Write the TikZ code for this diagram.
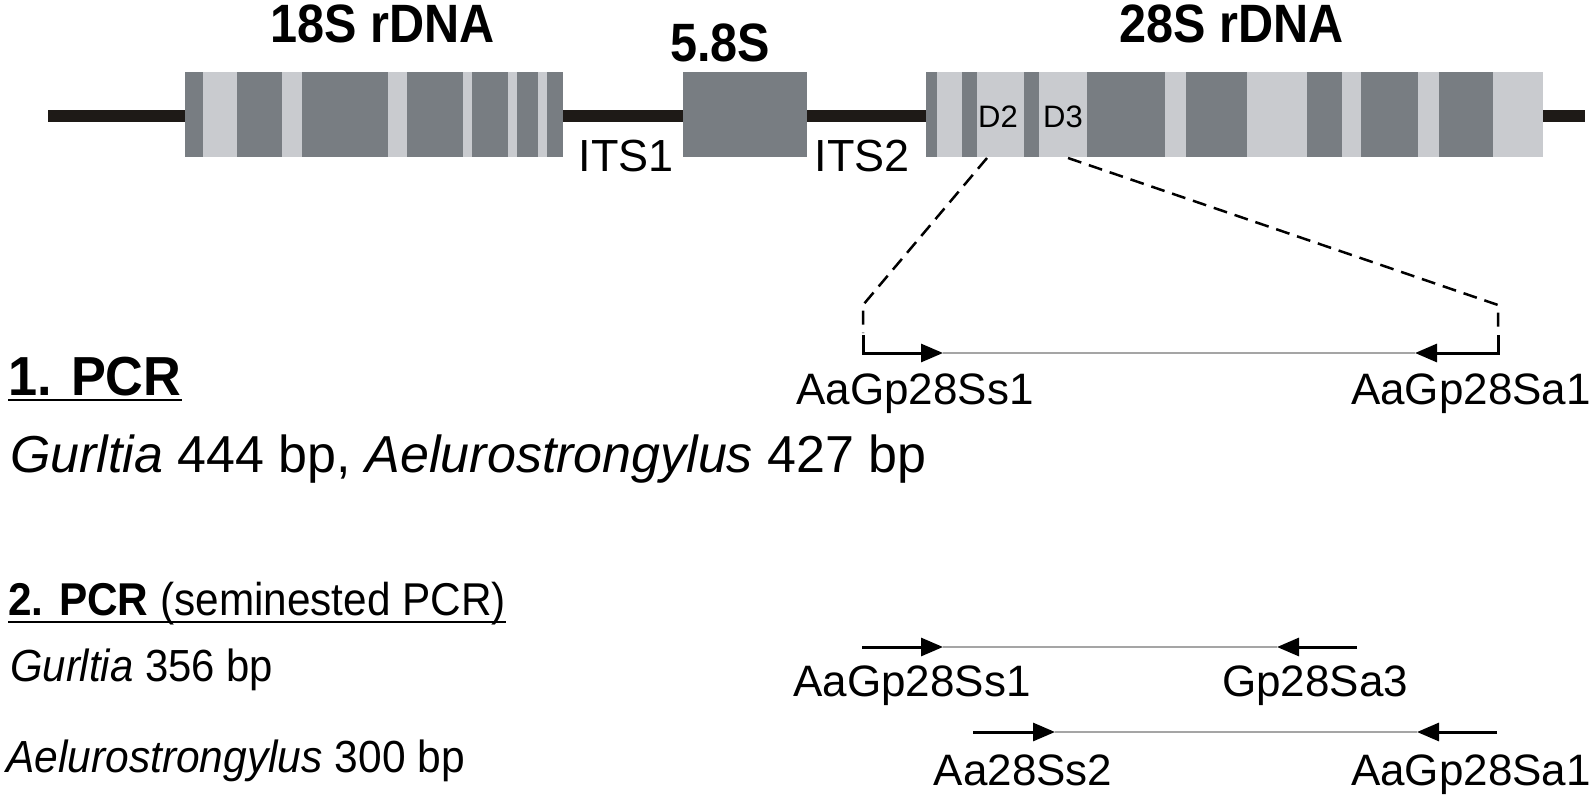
\documentclass[tikz,border=0pt]{standalone}
\usepackage{fontspec}
\setmainfont{Liberation Sans}
\usepackage{graphicx}
\usetikzlibrary{arrows.meta}
\definecolor{darkband}{RGB}{120,125,130}
\definecolor{lightband}{RGB}{201,203,207}
\definecolor{axiscol}{RGB}{30,26,23}
\definecolor{tmpl}{RGB}{165,165,165}
\newcommand\hsc[2]{\scalebox{#1}[1]{#2}}
\begin{document}
\begin{tikzpicture}[x=1pt,y=-1pt,
  heading/.style={font=\bfseries\fontsize{54}{60}\selectfont, inner sep=0pt, anchor=base},
  its/.style={font=\fontsize{45}{50}\selectfont, inner sep=0pt, anchor=base},
  dlabel/.style={font=\fontsize{31}{34}\selectfont, inner sep=0pt, anchor=base},
  primer/.style={font=\fontsize{44}{50}\selectfont, inner sep=0pt, anchor=base},
  bodyA/.style={font=\fontsize{52}{60}\selectfont, inner sep=0pt, anchor=base west},
  bodyB/.style={font=\fontsize{45}{50}\selectfont, inner sep=0pt, anchor=base west},
  backbone/.style={line width=12pt, draw=axiscol},
  zoomline/.style={dash pattern=on 14pt off 8pt, line width=2.5pt, draw=black},
  primerarrow/.style={line width=3pt, draw=black, -{Triangle[length=22pt,width=18pt]}},
  template/.style={line width=2pt, draw=tmpl},
  uline/.style={line width=2.5pt, draw=black}]
\useasboundingbox (0,0) rectangle (1595,800);

% backbone
\coordinate (bbL) at (48,116);
\coordinate (bbR) at (1585,116);
\draw[backbone] (bbL) -- (bbR);

% 18S
\fill[darkband] (185,72) rectangle (563,157);
\foreach \a/\b in {203/237, 282/302, 388/407, 463/472, 508/517, 538/547}
  \fill[lightband] (\a,72) rectangle (\b,157);
% 5.8S
\fill[darkband] (683,72) rectangle (807,157);
% 28S
\fill[darkband] (926,72) rectangle (1543,157);
\foreach \a/\b in {937/962, 977/1024, 1039/1087, 1165/1186, 1247/1307, 1342/1361, 1418/1439, 1493/1543}
  \fill[lightband] (\a,72) rectangle (\b,157);

% titles
\node[heading] (t18) at (383,43) {\hsc{0.9}{18S rDNA}};
\node[heading] (t58) at (720,62) {\hsc{0.9}{5.8S}};
\node[heading] (t28) at (1232,43) {\hsc{0.9}{28S rDNA}};
\node[its] (its1) at (626,171) {ITS1};
\node[its] (its2) at (862,171) {ITS2};
\node[dlabel] (d2) at (998,127) {D2};
\node[dlabel] (d3) at (1063,127) {D3};

% zoom lines
\coordinate (d2foot) at (987,158);
\coordinate (lc) at (863,305);
\coordinate (lend) at (863,333);
\coordinate (d3foot) at (1068,158);
\coordinate (rc) at (1498,305);
\coordinate (rend) at (1498,333);
\draw[zoomline] (d2foot) -- (lc) -- (lend);
\draw[zoomline] (d3foot) -- (rc) -- (rend);

% row 1 primers
\coordinate (f1s) at (863,335);
\coordinate (f1t) at (943,353);
\coordinate (r1s) at (1498,335);
\coordinate (r1t) at (1415,353);
\draw[template] (f1t) -- (r1t);
\draw[primerarrow] (f1s) |- (f1t);
\draw[primerarrow] (r1s) |- (r1t);
\node[primer] (p1f) at (915,404) {AaGp28Ss1};
\node[primer] (p1r) at (1471,404) {AaGp28Sa1};

% row 2
\coordinate (f2s) at (862,647);
\coordinate (f2t) at (943,647);
\coordinate (r2s) at (1357,647);
\coordinate (r2t) at (1277,647);
\draw[template] (f2t) -- (r2t);
\draw[primerarrow] (f2s) -- (f2t);
\draw[primerarrow] (r2s) -- (r2t);
\node[primer] (p2f) at (912,696) {AaGp28Ss1};
\node[primer] (p2r) at (1315,696) {Gp28Sa3};

% row 3
\coordinate (f3s) at (973,732);
\coordinate (f3t) at (1055,732);
\coordinate (r3s) at (1497,732);
\coordinate (r3t) at (1417,732);
\draw[template] (f3t) -- (r3t);
\draw[primerarrow] (f3s) -- (f3t);
\draw[primerarrow] (r3s) -- (r3t);
\node[primer] (p3f) at (1023,785) {Aa28Ss2};
\node[primer] (p3r) at (1471,785) {AaGp28Sa1};

% left texts
\node[bodyA, font=\bfseries\fontsize{55}{60}\selectfont] (pcr1) at (8,395) {\hsc{0.95}{1. PCR}};
\draw[uline] ([yshift=-5pt]pcr1.base west) -- ([yshift=-5pt]pcr1.base east);
\node[bodyA] (g1) at (10,472) {\textit{Gurltia} 444 bp, \textit{Aelurostrongylus} 427 bp};
\node[bodyB, font=\fontsize{46}{50}\selectfont] (pcr2) at (8,615) {\hsc{0.92}{\textbf{2. PCR} (seminested PCR)}};
\draw[uline] ([yshift=-7pt]pcr2.base west) -- ([yshift=-7pt]pcr2.base east);
\node[bodyB] (g2) at (10,681) {\hsc{0.93}{\textit{Gurltia} 356 bp}};
\node[bodyB] (a2) at (6,772) {\hsc{0.945}{\textit{Aelurostrongylus} 300 bp}};
\end{tikzpicture}
\end{document}
